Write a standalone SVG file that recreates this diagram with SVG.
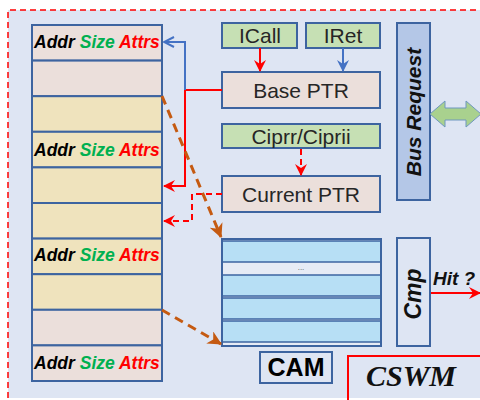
<svg xmlns="http://www.w3.org/2000/svg" width="480" height="400" viewBox="0 0 480 400">
  <style>
    .box { stroke: #3d64a0; stroke-width: 2; }
    .pink { fill: #ebdfdb; }
    .yellow { fill: #efe3bd; }
    .green { fill: #c6e0b4; }
    .cell { fill: #b7dff5; }
    .lbl { font-family: "Liberation Sans", Arial, sans-serif; font-size: 21px; fill: #262626; text-anchor: middle; }
    .fld { font-family: "Liberation Sans", Arial, sans-serif; font-size: 17.5px; font-weight: bold; font-style: italic; }
    .bi { font-family: "Liberation Sans", Arial, sans-serif; font-weight: bold; font-style: italic; fill: #111; }
    .red { stroke: #ff0000; stroke-width: 2; fill: none; }
    .blue { stroke: #4472c4; stroke-width: 2; fill: none; }
    .reddash { stroke: #ff0000; stroke-width: 2; fill: none; stroke-dasharray: 6 4; }
    .brown { stroke: #c55a11; stroke-width: 3; fill: none; stroke-dasharray: 9 6; }
  </style>
  <defs>
    <marker id="ahRed" markerUnits="userSpaceOnUse" markerWidth="12" markerHeight="12" viewBox="0 0 12 12" refX="11" refY="6" orient="auto">
      <path d="M0,0 L12,6 L0,12 L4,6 z" fill="#ff0000"/>
    </marker>
    <marker id="ahBlue" markerUnits="userSpaceOnUse" markerWidth="12" markerHeight="12" viewBox="0 0 12 12" refX="11" refY="6" orient="auto">
      <path d="M1,1 L11,6 L1,11" fill="none" stroke="#4472c4" stroke-width="2"/>
    </marker>
    <marker id="ahBlueF" markerUnits="userSpaceOnUse" markerWidth="12" markerHeight="12" viewBox="0 0 12 12" refX="11" refY="6" orient="auto">
      <path d="M0,0 L12,6 L0,12 L4,6 z" fill="#4472c4"/>
    </marker>
    <marker id="ahBrown" markerUnits="userSpaceOnUse" markerWidth="14" markerHeight="14" viewBox="0 0 14 14" refX="13" refY="7" orient="auto">
      <path d="M0,0 L14,7 L0,14 L4,7 z" fill="#c55a11"/>
    </marker>
  </defs>

  <!-- background region with dashed red frame -->
  <rect x="0" y="0" width="480" height="400" fill="#ffffff"/>
  <rect x="8" y="10" width="472" height="388" fill="#dee5f3"/>
  <path d="M8,398 L8,10 L480,10" fill="none" stroke="#ff0000" stroke-width="1.5" stroke-dasharray="6 4"/>

  <!-- memory table -->
  <g id="table">
    <rect class="box pink" x="32" y="25" width="130" height="35.6"/>
    <rect class="box pink" x="32" y="60.6" width="130" height="35.6"/>
    <rect class="box yellow" x="32" y="96.2" width="130" height="35.6"/>
    <rect class="box yellow" x="32" y="131.8" width="130" height="35.6"/>
    <rect class="box yellow" x="32" y="167.4" width="130" height="35.6"/>
    <rect class="box yellow" x="32" y="203" width="130" height="35.6"/>
    <rect class="box yellow" x="32" y="238.6" width="130" height="35.6"/>
    <rect class="box yellow" x="32" y="274.2" width="130" height="35.6"/>
    <rect class="box pink" x="32" y="309.8" width="130" height="35.6"/>
    <rect class="box pink" x="32" y="345.4" width="130" height="35.6"/>
    <text class="fld" x="34" y="48"><tspan fill="#000">Addr</tspan> <tspan fill="#00b050">Size</tspan> <tspan fill="#ff0000">Attrs</tspan></text>
    <text class="fld" x="34" y="156"><tspan fill="#000">Addr</tspan> <tspan fill="#00b050">Size</tspan> <tspan fill="#ff0000">Attrs</tspan></text>
    <text class="fld" x="34" y="261"><tspan fill="#000">Addr</tspan> <tspan fill="#00b050">Size</tspan> <tspan fill="#ff0000">Attrs</tspan></text>
    <text class="fld" x="34" y="369"><tspan fill="#000">Addr</tspan> <tspan fill="#00b050">Size</tspan> <tspan fill="#ff0000">Attrs</tspan></text>
  </g>

  <g id="icall">
    <rect class="box green" x="222" y="23" width="75" height="25"/>
    <text class="lbl" x="260" y="43">ICall</text>
  </g>
  <g id="iret">
    <rect class="box green" x="306" y="23" width="74" height="25"/>
    <text class="lbl" x="343" y="43">IRet</text>
  </g>
  <g id="base-ptr">
    <rect class="box pink" x="222" y="72" width="158" height="36"/>
    <text class="lbl" x="301" y="98">Base PTR</text>
  </g>
  <g id="ciprr">
    <rect class="box green" x="222" y="124" width="158" height="24"/>
    <text class="lbl" x="301" y="143.5">Ciprr/Ciprii</text>
  </g>
  <g id="current-ptr">
    <rect class="box pink" x="222" y="176" width="158" height="36"/>
    <text class="lbl" x="301" y="202">Current PTR</text>
  </g>

  <!-- CAM array -->
  <g id="cam">
    <rect x="222" y="239" width="159" height="107" fill="#e6ebf5" stroke="#3d64a0" stroke-width="2"/>
    <rect x="223" y="241" width="157" height="21" class="cell"/>
    <rect x="223" y="275" width="157" height="21" class="cell"/>
    <rect x="223" y="298" width="157" height="21" class="cell"/>
    <rect x="223" y="321" width="157" height="21" class="cell"/>
    <g stroke="#3d64a0" stroke-width="1.5">
      <line x1="222" y1="241" x2="381" y2="241"/>
      <line x1="222" y1="262" x2="381" y2="262"/>
      <line x1="222" y1="275" x2="381" y2="275"/>
      <line x1="222" y1="296" x2="381" y2="296"/>
      <line x1="222" y1="298" x2="381" y2="298"/>
      <line x1="222" y1="319" x2="381" y2="319"/>
      <line x1="222" y1="321" x2="381" y2="321"/>
      <line x1="222" y1="342" x2="381" y2="342"/>
    </g>
    <text x="301" y="270" font-family="Liberation Sans, Arial, sans-serif" font-size="8" fill="#555" text-anchor="middle">...</text>
  </g>
  <g id="cam-label">
    <rect x="260" y="352" width="72" height="31" fill="none" stroke="#3d64a0" stroke-width="2"/>
    <text x="296" y="376" font-family="Liberation Sans, Arial, sans-serif" font-size="25" font-weight="bold" fill="#000" text-anchor="middle">CAM</text>
  </g>

  <g id="bus-request">
    <rect x="397" y="23" width="33" height="177" fill="#b4c7e7" stroke="#3d64a0" stroke-width="2"/>
    <text class="bi" font-size="21" text-anchor="middle" transform="translate(421,112) rotate(-90)">Bus Request</text>
  </g>
  <g id="cmp">
    <rect x="397" y="238" width="33" height="108" fill="none" stroke="#3d64a0" stroke-width="2"/>
    <text class="bi" font-size="23" text-anchor="middle" transform="translate(421,294) rotate(-90)">Cmp</text>
  </g>
  <g id="cswm">
    <rect x="348" y="356" width="150" height="60" fill="none" stroke="#ff0000" stroke-width="2"/>
    <text x="366" y="386" font-family="Liberation Serif, Times New Roman, serif" font-size="30" font-weight="bold" font-style="italic" fill="#111">CSWM</text>
  </g>

  <!-- connectors -->
  <g id="connectors">
    <line class="red" x1="260" y1="48" x2="260" y2="71" marker-end="url(#ahRed)"/>
    <line class="blue" x1="343" y1="48" x2="343" y2="71" marker-end="url(#ahBlueF)"/>
    <polyline class="red" points="222,90 185,90 185,186 164,186" marker-end="url(#ahRed)"/>
    <polyline class="blue" points="185,90 185,42 164,42" marker-end="url(#ahBlue)"/>
    <line class="reddash" x1="301" y1="149" x2="301" y2="175" marker-end="url(#ahRed)"/>
    <polyline class="reddash" points="222,194 192,194 192,221 164,221" marker-end="url(#ahRed)"/>
    <line class="brown" x1="162" y1="96" x2="221" y2="237" marker-end="url(#ahBrown)"/>
    <line class="brown" x1="162" y1="310" x2="221" y2="344" marker-end="url(#ahBrown)"/>
    <line class="red" x1="431" y1="293" x2="480" y2="293" marker-end="url(#ahRed)"/>
    <polygon points="430,114 445,101 445,108 466,108 466,101 481,114 466,127 466,120 445,120 445,127" fill="#a9d18e" stroke="#6f97bf" stroke-width="1"/>
    <text class="bi" x="433" y="285" font-size="19">Hit ?</text>
  </g>
</svg>
